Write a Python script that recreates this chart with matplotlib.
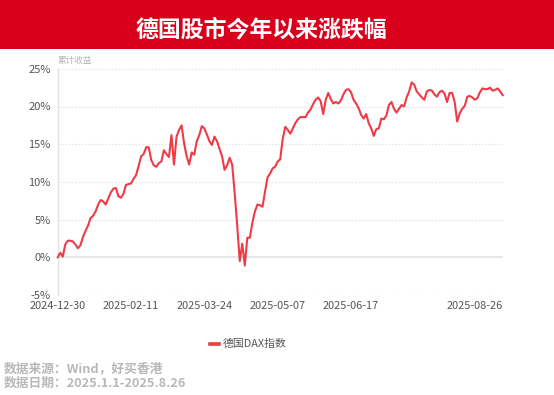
import matplotlib
matplotlib.use("Agg")
import matplotlib.pyplot as plt
from matplotlib.patches import Rectangle
from matplotlib.lines import Line2D

plt.rcParams['font.family'] = ['Noto Sans CJK SC', 'DejaVu Sans']

title = "德国股市今年以来涨跌幅"
series_name = "德国DAX指数"
y_label = "累计收益"
source_lines = ["数据来源：Wind，好买香港", "数据日期：2025.1.1-2025.8.26"]

# cumulative return (%) per trading day
values = [
    0.0, 0.6, 0.1, 1.7, 2.2, 2.2, 2.1, 1.7, 1.2, 1.6,
    2.7, 3.5, 4.2, 5.2, 5.5, 6.1, 7.0, 7.6, 7.4, 7.0,
    7.8, 8.6, 9.1, 9.2, 8.1, 7.9, 8.4, 9.6, 9.7, 9.8,
    10.4, 10.9, 12.1, 13.4, 13.7, 14.6, 14.6, 12.9, 12.2, 12.0,
    12.5, 12.7, 14.2, 13.7, 13.3, 16.2, 12.3, 16.0, 16.9, 17.5,
    15.1, 13.4, 12.3, 13.9, 13.6, 15.4, 16.2, 17.4, 17.1, 16.3,
    15.4, 14.9, 16.0, 15.4, 14.4, 13.4, 11.6, 12.2, 13.2, 12.3,
    8.5, 4.2, -0.5, 1.8, -1.1, 2.6, 2.6, 4.6, 6.1, 7.0,
    6.9, 6.7, 8.7, 10.6, 11.1, 11.8, 12.0, 12.7, 13.0, 15.7,
    17.3, 16.9, 16.4, 17.1, 17.8, 18.3, 18.6, 18.6, 18.6, 19.2,
    19.6, 20.3, 20.9, 21.2, 20.7, 19.0, 20.9, 21.8, 21.0, 20.4,
    20.6, 20.4, 20.8, 21.6, 22.2, 22.3, 21.9, 20.9, 20.4, 19.8,
    18.9, 18.4, 19.0, 17.8, 17.1, 16.1, 17.0, 17.1, 18.4, 18.3,
    18.8, 20.2, 20.6, 19.7, 19.2, 19.7, 20.2, 20.0, 21.2, 22.0,
    23.2, 22.9, 22.0, 21.6, 21.2, 20.9, 22.0, 22.2, 22.1, 21.6,
    21.3, 21.9, 22.1, 21.7, 20.6, 21.8, 21.8, 20.6, 18.0, 19.1,
    19.7, 20.1, 21.3, 21.4, 21.2, 20.9, 21.1, 21.9, 22.4, 22.3,
    22.3, 22.5, 22.1, 22.2, 22.4, 22.0, 21.5,
]
tick_idx = [0, 29, 58, 87, 116, len(values) - 1]
tick_labels = ["2024-12-30", "2025-02-11", "2025-03-24", "2025-05-07", "2025-06-17", "2025-08-26"]
y_ticks = [-5, 0, 5, 10, 15, 20, 25]

W, H = 554, 395
fig = plt.figure(figsize=(W / 100, H / 100), dpi=100)
fig.patch.set_facecolor("white")

# title banner
fig.add_artist(Rectangle((0, 1 - 49 / H), 1, 49 / H, transform=fig.transFigure,
                         facecolor="#D9001B", edgecolor="none", zorder=0))
fig.text(261 / W, 1 - 30 / H, title, color="white", fontsize=16.5, fontweight="bold",
         ha="center", va="center")

left, right = 57.7 / W, 502.7 / W
bottom, top = (H - 295) / H, (H - 68.8) / H
ax = fig.add_axes([left, bottom, right - left, top - bottom])
x = list(range(len(values)))
ax.plot(x, values, color="#EE3B47", lw=1.5, solid_joinstyle="round", zorder=3, clip_on=False)

ax.set_xlim(0, len(values) - 1)
ax.set_ylim(-5, 25)
ax.set_yticks(y_ticks)
ax.set_yticklabels([f"{v}%" for v in y_ticks])
for v in y_ticks:
    if v == 0:
        ax.axhline(v, color="#E3E3E3", lw=1.2, zorder=1)
    else:
        ax.axhline(v, color="#E6E6E6", lw=0.8, ls=(0, (1.5, 1.5)), zorder=1)

ax.set_xticks(tick_idx)
ax.set_xticklabels(tick_labels)
labels = ax.get_xticklabels()
labels[-1].set_ha("right")
ax.tick_params(axis="x", length=0, pad=4, labelsize=7.9, labelcolor="#555555")
ax.tick_params(axis="y", length=0, pad=5, labelsize=8.0, labelcolor="#555555")
for s in ["top", "right", "bottom"]:
    ax.spines[s].set_visible(False)
ax.spines["left"].set_color("#E3E3E3")
ax.spines["left"].set_linewidth(1.0)
ax.set_facecolor("none")

fig.text(58 / W, 1 - 61 / H, y_label, fontsize=6.2, color="#B5B5B5", ha="left", va="center")

# legend
fig.add_artist(Line2D([210 / W, 219 / W], [1 - 344 / H] * 2, transform=fig.transFigure,
                      color="#EE3B47", lw=2.6))
fig.text(223 / W, 1 - 344 / H, series_name, fontsize=7.8, color="#555555", ha="left", va="center")

fig.text(4 / W, 1 - 369 / H, source_lines[0], fontsize=9.2, fontweight="bold",
         color="#B8B8B8", ha="left", va="center")
fig.text(4 / W, 1 - 383 / H, source_lines[1], fontsize=9.2, fontweight="bold",
         color="#B8B8B8", ha="left", va="center")

fig.savefig("out.png", dpi=100)
